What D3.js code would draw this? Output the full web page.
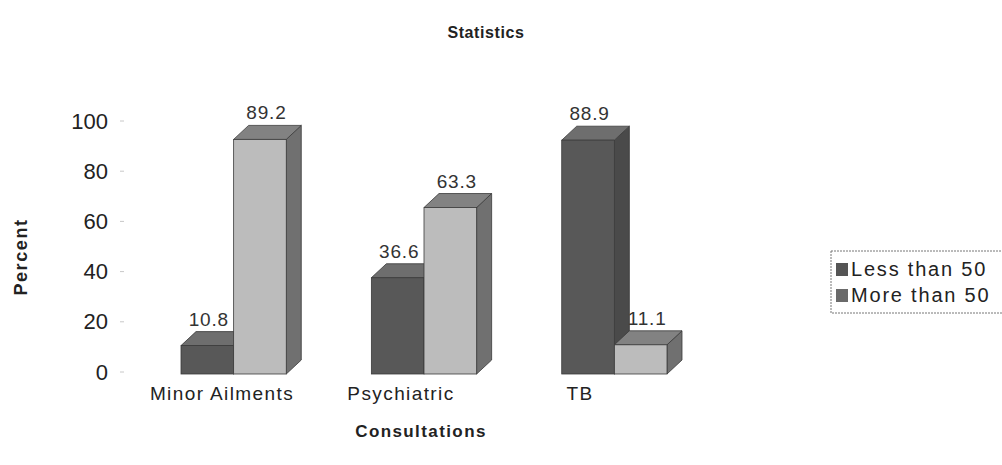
<!DOCTYPE html>
<html>
<head>
<meta charset="utf-8">
<script src="https://cdn.jsdelivr.net/npm/d3@7"></script>
<style>
  html, body { margin: 0; padding: 0; background: #fff; }
  svg { display: block; font-family: "Liberation Sans", Arial, sans-serif; }
</style>
</head>
<body>
<svg id="chart" width="1002" height="465"></svg>
<script>
// Consultation categories and the two age groups
const categories = ["Minor Ailments", "Psychiatric", "TB"];
const seriesNames = ["Less than 50", "More than 50"];
const lessThan50 = [10.8, 36.6, 88.9];
const moreThan50 = [89.2, 63.3, 11.1];
const yTicks = [0, 20, 40, 60, 80, 100];

const seriesValues = [lessThan50, moreThan50];

// Face shades per series: front, top, side, legend key
const shades = [
  { front: "#585858", top: "#6e6e6e", side: "#4a4a4a", key: "#555555" },
  { front: "#bcbcbc", top: "#828282", side: "#707070", key: "#6a6a6a" }
];

const svg = d3.select("#chart");

// 3D depth offset of the bars
const depth = { dx: 15, dy: -14 };

const x = d3.scaleBand().domain(categories).range([181, 667]).paddingInner(0.447).paddingOuter(0);
const xInner = d3.scaleBand().domain(d3.range(seriesNames.length)).range([0, x.bandwidth()]).padding(0);
const y = d3.scaleLinear().domain([0, 100]).range([374, 111]);
const yAxisScale = d3.scaleLinear().domain([0, 100]).range([372, 121]);
const xLabel = d3.scalePoint().domain(categories).range([222, 580]);

// Title
svg.append("text")
  .attr("x", 486).attr("y", 38)
  .attr("text-anchor", "middle")
  .attr("font-size", 16).attr("font-weight", "bold").attr("fill", "#222")
  .attr("letter-spacing", 0.6)
  .text("Statistics");

// Y axis tick labels
const yAxis = d3.axisLeft(yAxisScale).tickValues(yTicks).tickSize(0).tickPadding(0);
const yg = svg.append("g").attr("transform", "translate(108,0)").call(yAxis);
yg.select(".domain").remove();
yg.selectAll("text")
  .attr("font-size", 22).attr("fill", "#222")
  .attr("font-family", "Liberation Sans, Arial, sans-serif");

// faint tick marks on the axis
svg.append("g").selectAll("line").data(yTicks).join("line")
  .attr("x1", 120).attr("x2", 124)
  .attr("y1", d => yAxisScale(d)).attr("y2", d => yAxisScale(d))
  .attr("stroke", "#c8c8c8").attr("stroke-width", 1);

// Y axis title
svg.append("text")
  .attr("transform", "translate(27,257) rotate(-90)")
  .attr("text-anchor", "middle")
  .attr("font-size", 18).attr("font-weight", "bold").attr("fill", "#222")
  .attr("letter-spacing", 1.6)
  .text("Percent");

// X axis title
svg.append("text")
  .attr("x", 421).attr("y", 437)
  .attr("text-anchor", "middle")
  .attr("font-size", 17).attr("font-weight", "bold").attr("fill", "#222")
  .attr("letter-spacing", 1.4)
  .text("Consultations");

// Category labels
svg.append("g").selectAll("text").data(categories).join("text")
  .attr("x", d => xLabel(d)).attr("y", 400)
  .attr("text-anchor", "middle")
  .attr("font-size", 19).attr("fill", "#222")
  .attr("letter-spacing", 1.4)
  .text(d => d);

// Bars: build a flat list, drawn left to right
const bars = [];
categories.forEach((c, ci) => {
  seriesNames.forEach((s, si) => {
    bars.push({ cat: c, si, value: seriesValues[si][ci] });
  });
});

const barG = svg.append("g");
const labelG = svg.append("g");
bars.forEach(b => {
  const x0 = x(b.cat) + xInner(b.si);
  const x1 = x0 + xInner.bandwidth();
  const yTop = y(b.value);
  const yBase = y(0);
  const sh = shades[b.si];
  const g = barG.append("g");
  // side face
  g.append("path")
    .attr("d", `M${x1},${yTop} L${x1 + depth.dx},${yTop + depth.dy} L${x1 + depth.dx},${yBase + depth.dy} L${x1},${yBase} Z`)
    .attr("fill", sh.side).attr("stroke", "#3a3a3a").attr("stroke-width", 0.8);
  // top face
  g.append("path")
    .attr("d", `M${x0},${yTop} L${x0 + depth.dx},${yTop + depth.dy} L${x1 + depth.dx},${yTop + depth.dy} L${x1},${yTop} Z`)
    .attr("fill", sh.top).attr("stroke", "#3a3a3a").attr("stroke-width", 0.8);
  // front face
  g.append("rect")
    .attr("x", x0).attr("y", yTop)
    .attr("width", x1 - x0).attr("height", yBase - yTop)
    .attr("fill", sh.front).attr("stroke", "#3a3a3a").attr("stroke-width", 0.8);
  // value label, kept above every bar
  labelG.append("text")
    .attr("x", (x0 + x1) / 2 + depth.dx / 2 - (b.si === 0 ? 6 : 1))
    .attr("y", yTop + depth.dy - 6)
    .attr("text-anchor", "middle")
    .attr("font-size", 19).attr("fill", "#333")
    .attr("letter-spacing", 0.8)
    .text(b.value.toFixed(1));
});

// Legend
const lg = svg.append("g").attr("transform", "translate(831,251)");
lg.append("rect")
  .attr("x", 0).attr("y", 0).attr("width", 185).attr("height", 62)
  .attr("fill", "#fff").attr("stroke", "#777").attr("stroke-width", 1)
  .attr("stroke-dasharray", "2,1");
seriesNames.forEach((s, i) => {
  lg.append("rect")
    .attr("x", 5).attr("y", 12 + i * 26).attr("width", 12).attr("height", 13)
    .attr("fill", shades[i].key);
  lg.append("text")
    .attr("x", 20).attr("y", 25 + i * 26)
    .attr("font-size", 20).attr("fill", "#222")
    .attr("letter-spacing", 1.8)
    .text(s);
});
</script>
</body>
</html>
